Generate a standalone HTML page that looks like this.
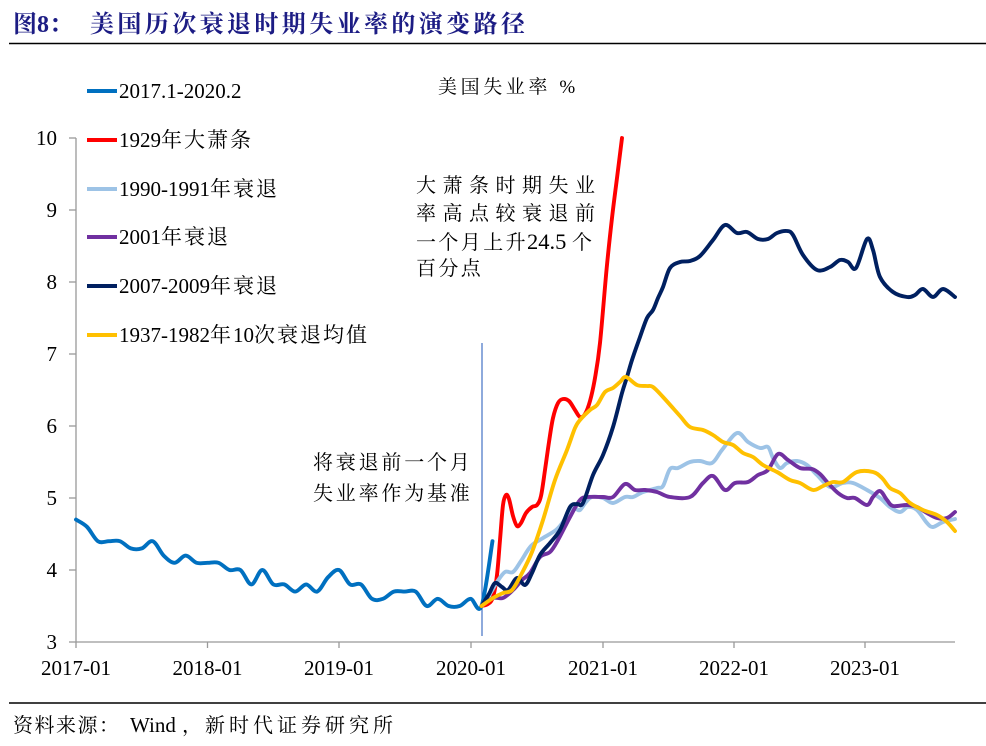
<!DOCTYPE html>
<html><head><meta charset="utf-8"><style>
html,body{margin:0;padding:0;background:#fff;}
svg{display:block;}
.s{font-family:"Liberation Serif","Noto Serif CJK SC",serif;fill:#000;}
</style></head><body>
<svg width="986" height="746" viewBox="0 0 986 746" xmlns="http://www.w3.org/2000/svg">
<rect width="986" height="746" fill="#fff"/>
<!-- title -->
<text class="s" x="13" y="32" font-size="24" font-weight="bold" style="fill:#1c1c84">图8：</text>
<text class="s" x="90" y="32" font-size="24" font-weight="bold" letter-spacing="3.4" style="fill:#1c1c84">美国历次衰退时期失业率的演变路径</text>
<line x1="9" y1="43.5" x2="986" y2="43.5" stroke="#000" stroke-width="1.6"/>
<line x1="9" y1="703" x2="986" y2="703" stroke="#000" stroke-width="1.6"/>
<!-- source -->
<text class="s" x="13" y="732" font-size="20" letter-spacing="1.5">资料来源：</text>
<text class="s" x="130" y="732" font-size="21">Wind</text>
<text class="s" x="182" y="732" font-size="20">，</text>
<text class="s" x="205" y="732" font-size="20" letter-spacing="4">新时代证券研究所</text>

<!-- axes -->
<g stroke="#999" stroke-width="1.3" fill="none">
<line x1="76" y1="138" x2="76" y2="642"/>
<line x1="76" y1="642" x2="955" y2="642"/>
<line x1="69" y1="138" x2="76" y2="138"/>
<line x1="69" y1="210" x2="76" y2="210"/>
<line x1="69" y1="282" x2="76" y2="282"/>
<line x1="69" y1="354" x2="76" y2="354"/>
<line x1="69" y1="426" x2="76" y2="426"/>
<line x1="69" y1="498" x2="76" y2="498"/>
<line x1="69" y1="570" x2="76" y2="570"/>
<line x1="69" y1="642" x2="76" y2="642"/>
<line x1="76" y1="642" x2="76" y2="648"/>
<line x1="207.5" y1="642" x2="207.5" y2="648"/>
<line x1="339" y1="642" x2="339" y2="648"/>
<line x1="471" y1="642" x2="471" y2="648"/>
<line x1="603" y1="642" x2="603" y2="648"/>
<line x1="734" y1="642" x2="734" y2="648"/>
<line x1="865" y1="642" x2="865" y2="648"/>
</g>
<g class="s" font-size="21" text-anchor="end">
<text class="s" x="57" y="145">10</text>
<text class="s" x="57" y="217">9</text>
<text class="s" x="57" y="289">8</text>
<text class="s" x="57" y="361">7</text>
<text class="s" x="57" y="433">6</text>
<text class="s" x="57" y="505">5</text>
<text class="s" x="57" y="577">4</text>
<text class="s" x="57" y="649">3</text>
</g>
<g class="s" font-size="21" text-anchor="middle">
<text class="s" x="76" y="675">2017-01</text>
<text class="s" x="207.5" y="675">2018-01</text>
<text class="s" x="339" y="675">2019-01</text>
<text class="s" x="471" y="675">2020-01</text>
<text class="s" x="603" y="675">2021-01</text>
<text class="s" x="734" y="675">2022-01</text>
<text class="s" x="865" y="675">2023-01</text>
</g>

<!-- legend -->
<g stroke-width="4">
<line x1="87" y1="91" x2="117" y2="91" stroke="#0070C0"/>
<line x1="87" y1="140" x2="117" y2="140" stroke="#FF0000"/>
<line x1="87" y1="189" x2="117" y2="189" stroke="#9DC3E6"/>
<line x1="87" y1="237" x2="117" y2="237" stroke="#7030A0"/>
<line x1="87" y1="286" x2="117" y2="286" stroke="#002060"/>
<line x1="87" y1="335" x2="117" y2="335" stroke="#FFC000"/>
</g>
<g font-size="21">
<text class="s" x="119" y="98">2017.1-2020.2</text>
<text class="s" x="119" y="147">1929<tspan letter-spacing="2">年大萧条</tspan></text>
<text class="s" x="119" y="196">1990-1991<tspan letter-spacing="2">年衰退</tspan></text>
<text class="s" x="119" y="244">2001<tspan letter-spacing="2">年衰退</tspan></text>
<text class="s" x="119" y="293">2007-2009<tspan letter-spacing="2">年衰退</tspan></text>
<text class="s" x="119" y="342">1937-1982<tspan letter-spacing="2">年</tspan>10<tspan letter-spacing="2">次衰退均值</tspan></text>
</g>

<!-- annotations -->
<text class="s" x="438" y="93" font-size="19" letter-spacing="3.6">美国失业率 %</text>
<g font-size="20">
<text class="s" x="416" y="192" letter-spacing="6.5">大萧条时期失业</text>
<text class="s" x="416" y="220" letter-spacing="6.5">率高点较衰退前</text>
<text class="s" x="416" y="249" letter-spacing="2.4">一个月上升</text>
<text class="s" x="527" y="249" font-size="22.5">24.5</text>
<text class="s" x="572" y="249">个</text>
<text class="s" x="416" y="275" letter-spacing="2.4">百分点</text>
<text class="s" x="313" y="469" letter-spacing="2.8">将衰退前一个月</text>
<text class="s" x="313" y="500" letter-spacing="2.8">失业率作为基准</text>
</g>

<line x1="482" y1="343" x2="482" y2="636" stroke="#4472C4" stroke-width="1.2"/>

<!-- series -->
<g fill="none" stroke-width="3.9" stroke-linejoin="round" stroke-linecap="round">
<path class="sm" stroke="#0070C0" d="M76,519.6 L86.96,526.8 97.92,541.2 108.88,541.2 119.84,541.2 130.8,548.4 141.76,548.4 152.72,541.2 163.68,555.6 174.64,562.8 185.6,555.6 196.56,562.8 207.52,562.8 218.48,562.8 229.44,570 240.4,570 251.36,584.4 262.32,570 273.28,584.4 284.24,584.4 295.2,591.6 306.16,584.4 317.12,591.6 328.08,577.2 339.04,570 350,584.4 360.96,584.4 371.92,598.8 382.88,598.8 393.84,591.6 404.8,591.6 415.76,591.6 426.72,606 437.68,598.8 448.64,606 459.6,606 470.56,598.8 481.52,606 492.48,541.2"/>
<path class="sm" stroke="#FF0000" d="M481.5,606 L488,604 493,597 497,575 500,540 503,505 506,495 509,499 513,516 517,526 521,523 526,513 532,507 537,505 541,496 545,470 549,442 553,418 558,403 563,399 569,401 575,410 580,417 585,414 590,401 595,378 600,343 606.7,268 612,218 617,178 622,138"/>
<path class="sm" stroke="#9DC3E6" d="M481.5,606 L490,594 497,582 505,572 513,572 521,561 531,546 543,538 556,530 563,522 570,509 576,509 580,510 586,502 592,497 603,498 613,503 625,497 633,497 643,492 657,488 663,486 670,469 678,468 690,462 700,461 712,463 722,450 737,433 748,442 760,448 768,447 773,458 780,468 787,463 797,461 807,465 817,475 830,487 843,483 853,483 867,490 880,498 890,507 900,512 908,507 917,510 927,523 933,527 943,522 955,519"/>
<path class="sm" stroke="#7030A0" d="M481.5,606 L493,598 503,598 513,590 522,580 530,573 540,557 550,552 558,540 570,517 580,500 588,497 603,497 613,497 625,484 635,490 645,490 657,492 670,497 690,497 703,483 713,476 725,490 735,483 748,482 758,475 768,470 778,454 788,460 800,468 812,469 820,474 828,483 838,493 847,498 855,498 867,505 873,497 880,491 887,500 893,506 907,505 917,507 927,513 937,518 947,518 955,512"/>
<path class="sm" stroke="#002060" d="M481.5,606 L489,594 495,583 502,587 508,590 517,578 525,585 532,573 540,555 550,543 560,530 570,507 577,504 583,503 593,475 603,455 613,427 622,393 627,377 632,360 640,337 647,318 653,310 658,298 663,287 670,268 680,262 690,261 700,256 713,240 725,225 737,233 747,232 758,239 768,239 777,233 787,231 793,235 803,255 817,270 830,267 840,260 848,262 856,268 867,239 873,250 880,277 893,292 907,297 915,295 923,289 933,297 943,289 955,297"/>
<path class="sm" stroke="#FFC000" d="M481.5,606 L493,598 503,593 512,590 522,573 532,552 543,520 555,480 567,450 575,428 580,420 590,410 597,405 605,392 613,388 620,382 626,377 637,385 647,386 653,387 663,397 680,416 690,427 703,430 713,435 723,442 733,445 743,453 753,457 763,465 777,472 790,480 800,483 813,490 823,486 833,482 843,482 857,472 873,472 882,478 890,488 900,493 910,503 923,510 937,515 947,522 955,531"/>
</g>
</svg>
<script>
(function(){
var ps=document.querySelectorAll('path.sm');
for(var k=0;k<ps.length;k++){
 var p=ps[k];var nums=p.getAttribute('d').match(/-?[\d.]+/g).map(Number);
 var pts=[];for(var i=0;i<nums.length;i+=2)pts.push([nums[i],nums[i+1]]);
 var d='M'+pts[0][0]+','+pts[0][1];
 for(var i=0;i<pts.length-1;i++){
  var p0=pts[i-1]||pts[i],p1=pts[i],p2=pts[i+1],p3=pts[i+2]||pts[i+1];
  var c1x=p1[0]+(p2[0]-p0[0])/6,c1y=p1[1]+(p2[1]-p0[1])/6;
  var c2x=p2[0]-(p3[0]-p1[0])/6,c2y=p2[1]-(p3[1]-p1[1])/6;
  d+=' C'+c1x.toFixed(2)+','+c1y.toFixed(2)+' '+c2x.toFixed(2)+','+c2y.toFixed(2)+' '+p2[0]+','+p2[1];
 }
 p.setAttribute('d',d);
}
})();
</script>
</body></html>
